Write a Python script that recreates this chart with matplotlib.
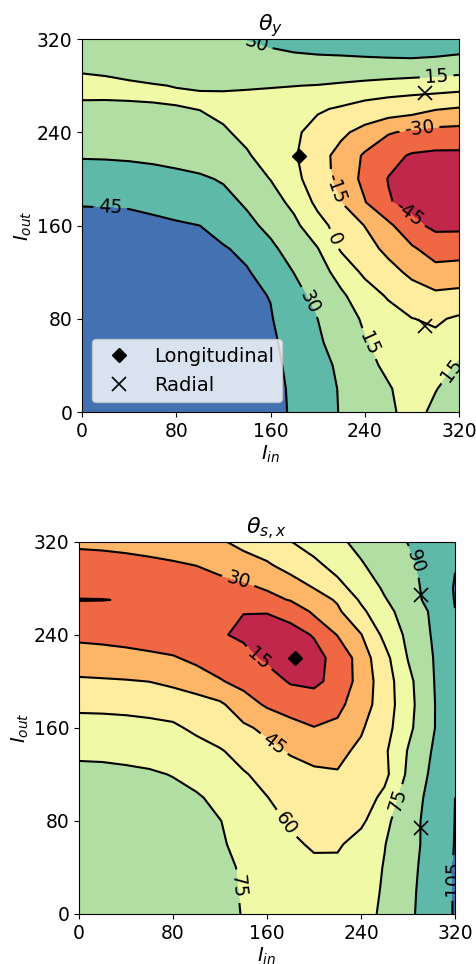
import numpy as np
import matplotlib
matplotlib.use("Agg")
import matplotlib.pyplot as plt

# coil currents on the map grid (extra row at 270 for the thin features)
i_in = [0, 20, 40, 60, 80, 100, 120, 140, 160, 180, 200, 220, 240, 260, 280, 300, 320]
i_out = [0, 20, 40, 60, 80, 100, 120, 140, 160, 180, 200, 220, 240, 260, 270, 280, 300, 320]

# theta_y (deg), one row per I_out value
theta_y = [
    [56.5, 56.3, 56.0, 55.5, 54.8, 53.8, 52.5, 50.8, 48.6, 43.5, 36.2, 29.1, 23.1, 17.1, 11.0, 17.5, 22.0],
    [56.2, 56.0, 55.7, 55.2, 54.5, 53.5, 52.2, 50.5, 48.4, 43.2, 35.9, 28.8, 22.5, 16.2, 9.0, 14.5, 20.0],
    [55.8, 55.6, 55.3, 54.8, 54.0, 53.0, 51.6, 49.8, 47.6, 42.4, 34.9, 27.2, 19.1, 12.1, 6.4, 8.5, 16.5],
    [55.3, 55.1, 54.8, 54.3, 53.5, 52.5, 51.0, 49.0, 47.3, 40.1, 32.0, 23.9, 15.8, 10.6, 5.0, 3.0, 10.0],
    [54.6, 54.4, 54.1, 53.6, 52.8, 51.8, 50.3, 48.2, 45.8, 38.3, 30.0, 21.2, 13.1, 6.7, 0.3, -1.8, 2.0],
    [53.8, 53.6, 53.3, 52.8, 52.0, 50.9, 49.3, 47.2, 44.6, 34.6, 25.7, 17.1, 7.5, -1.8, -9.0, -12.3, -11.0],
    [52.8, 52.6, 52.3, 51.8, 51.0, 49.8, 48.0, 46.2, 38.5, 29.7, 21.0, 9.8, -3.0, -10.5, -17.9, -24.8, -23.6],
    [51.5, 51.3, 51.0, 50.4, 49.5, 48.2, 46.3, 41.5, 32.8, 24.2, 15.6, -1.7, -9.8, -18.3, -27.8, -37.0, -36.3],
    [49.5, 49.2, 48.6, 47.6, 46.3, 45.0, 39.2, 33.4, 26.6, 18.4, 5.3, -6.2, -15.3, -26.7, -41.4, -48.0, -48.0],
    [44.0, 43.8, 43.5, 42.0, 40.2, 37.8, 34.0, 28.2, 20.8, 11.4, -3.5, -15.0, -29.3, -43.9, -49.8, -53.0, -54.0],
    [36.1, 35.9, 35.4, 34.5, 33.2, 31.8, 28.8, 21.3, 14.7, 3.9, -7.6, -20.4, -33.8, -45.5, -50.5, -54.5, -55.5],
    [29.0, 28.8, 28.3, 27.4, 26.0, 23.9, 21.0, 16.3, 9.3, 1.4, -8.8, -20.3, -31.9, -40.5, -46.5, -48.0, -48.0],
    [23.0, 22.8, 22.3, 21.5, 20.3, 18.7, 16.5, 11.8, 6.9, 2.1, -4.4, -12.0, -20.2, -28.8, -32.5, -34.5, -35.0],
    [17.1, 17.0, 16.8, 16.4, 15.6, 14.8, 12.1, 9.4, 6.7, 4.1, 1.4, -1.5, -4.0, -6.5, -9.0, -14.2, -16.3],
    [14.3, 14.4, 14.2, 13.9, 13.7, 13.8, 13.7, 13.0, 12.3, 11.3, 9.5, 4.7, 1.5, 0.0, -1.8, -3.4, -5.3],
    [11.0, 12.0, 13.5, 14.5, 15.3, 16.0, 16.2, 16.1, 15.7, 15.2, 14.6, 13.2, 11.5, 9.8, 8.2, 7.0, 5.8],
    [18.6, 19.3, 20.0, 20.6, 21.2, 21.8, 22.5, 23.8, 25.0, 26.3, 27.0, 27.3, 27.8, 28.2, 28.4, 27.5, 25.8],
    [25.0, 25.3, 25.7, 26.2, 26.8, 27.5, 28.5, 30.2, 33.0, 35.0, 36.0, 36.5, 37.0, 37.2, 37.4, 38.0, 38.0],
]

# theta_s,x (deg)
theta_sx = [
    [82.0, 82.0, 81.6, 81.0, 80.0, 78.8, 77.0, 74.7, 72.0, 70.0, 69.0, 69.5, 72.0, 76.5, 87.0, 97.0, 106.0],
    [82.0, 81.8, 81.4, 80.7, 79.6, 78.3, 76.4, 74.6, 71.0, 68.5, 67.5, 68.0, 71.0, 76.0, 86.5, 96.5, 106.0],
    [81.8, 81.6, 81.2, 80.6, 79.5, 78.2, 76.5, 74.3, 69.0, 64.5, 62.5, 63.5, 68.0, 75.7, 85.5, 96.0, 106.0],
    [81.2, 81.0, 80.5, 79.7, 78.7, 77.6, 76.2, 72.1, 67.1, 62.1, 58.5, 58.0, 66.0, 74.5, 84.5, 95.0, 105.5],
    [80.8, 80.5, 80.0, 79.2, 78.1, 76.8, 75.3, 70.0, 64.4, 58.5, 53.5, 53.5, 57.0, 71.5, 84.1, 95.2, 105.2],
    [80.5, 80.2, 79.6, 78.8, 77.8, 76.6, 71.3, 65.8, 60.3, 55.0, 50.0, 49.0, 52.5, 63.5, 83.0, 93.8, 105.0],
    [78.0, 77.7, 77.0, 76.2, 74.6, 70.1, 65.6, 61.1, 56.0, 51.0, 47.0, 45.8, 49.5, 56.0, 77.7, 92.3, 105.0],
    [72.8, 72.6, 72.0, 71.0, 69.5, 65.0, 61.2, 55.0, 48.8, 43.5, 41.2, 42.0, 47.5, 57.5, 75.8, 90.2, 104.5],
    [65.3, 65.0, 64.5, 63.5, 62.1, 57.4, 52.3, 47.3, 41.9, 36.5, 30.5, 33.0, 43.5, 54.0, 71.5, 87.5, 104.5],
    [57.0, 56.8, 56.2, 55.2, 53.8, 51.5, 47.4, 36.7, 28.0, 21.5, 19.5, 26.0, 38.5, 52.0, 70.0, 87.5, 104.0],
    [47.0, 46.4, 45.8, 44.8, 41.8, 37.0, 31.1, 25.4, 19.6, 14.0, 13.0, 18.0, 36.5, 52.4, 71.0, 88.2, 104.0],
    [36.4, 35.8, 34.6, 33.0, 31.2, 26.8, 22.3, 17.8, 13.0, 11.0, 12.5, 17.5, 37.6, 55.2, 75.6, 89.0, 103.5],
    [26.8, 25.8, 24.5, 22.8, 21.0, 19.2, 15.8, 13.5, 12.0, 12.5, 15.5, 30.7, 44.4, 63.5, 78.3, 90.5, 104.5],
    [18.0, 18.0, 18.4, 18.7, 18.8, 18.5, 17.0, 15.2, 15.3, 17.5, 33.1, 42.6, 56.9, 70.3, 81.5, 91.5, 104.8],
    [14.7, 14.8, 15.4, 16.5, 17.5, 18.5, 20.6, 21.7, 24.8, 31.0, 38.9, 46.5, 62.0, 74.0, 83.0, 95.0, 105.5],
    [17.5, 17.7, 18.5, 19.6, 20.8, 22.2, 24.0, 26.5, 31.4, 38.3, 45.1, 55.4, 66.2, 76.8, 85.1, 94.6, 106.0],
    [23.5, 24.3, 25.6, 27.0, 28.5, 30.3, 34.8, 39.1, 43.5, 49.7, 56.8, 64.9, 73.8, 80.8, 87.6, 94.0, 104.5],
    [33.0, 33.5, 34.3, 35.5, 37.0, 39.3, 43.5, 48.9, 52.5, 59.7, 66.1, 72.5, 78.6, 84.5, 90.3, 96.5, 103.0],
]

# operating points
long_in, long_out = [184], [220]
radial_in, radial_out = [291, 291], [274, 74]

# where the contour labels sit
labels_y = [(148, 316), (301, 288), (286, 246), (213, 191), (273, 164), (213, 148),
            (24, 176), (194, 95), (242, 58), (311, 38)]
labels_sx = [(136, 288), (153, 220), (165, 145), (177, 78), (137, 24), (270, 98),
             (286, 303), (316, 31)]

FS = 13.5


def panel(ax, z, fill_levels, line_levels, label_pos, title):
    ax.contourf(i_in, i_out, np.array(z), levels=fill_levels, cmap="Spectral")
    cs = ax.contour(i_in, i_out, np.array(z), levels=line_levels, colors="k",
                    linewidths=1.5, linestyles="solid")
    ax.clabel(cs, fmt="%d", fontsize=FS, manual=label_pos)
    ax.plot(long_in, long_out, "kD", ms=7, label="Longitudinal")
    ax.plot(radial_in, radial_out, "kx", ms=10, mew=1.2, label="Radial")
    ax.set_xlim(0, 320)
    ax.set_ylim(0, 320)
    ax.set_xticks([0, 80, 160, 240, 320])
    ax.set_yticks([0, 80, 160, 240, 320])
    ax.tick_params(labelsize=FS)
    ax.set_xlabel("$I_{in}$", fontsize=14, labelpad=2)
    ax.set_ylabel("$I_{out}$", fontsize=14, labelpad=2)
    ax.set_title(title, fontsize=16, pad=4)


fig = plt.figure(figsize=(4.77, 9.64), dpi=100)
ax1 = fig.add_axes([0.1719, 0.5726, 0.7904, 0.3869])
ax2 = fig.add_axes([0.1656, 0.0519, 0.7883, 0.3862])

panel(ax1, theta_y, np.arange(-60, 61, 15), np.arange(-45, 46, 15), labels_y, r"$\theta_y$")
ax1.legend(loc="lower left", fontsize=14)
panel(ax2, theta_sx, np.arange(0, 121, 15), np.arange(15, 106, 15), labels_sx, r"$\theta_{s,x}$")

fig.savefig("out.png", dpi=100)
